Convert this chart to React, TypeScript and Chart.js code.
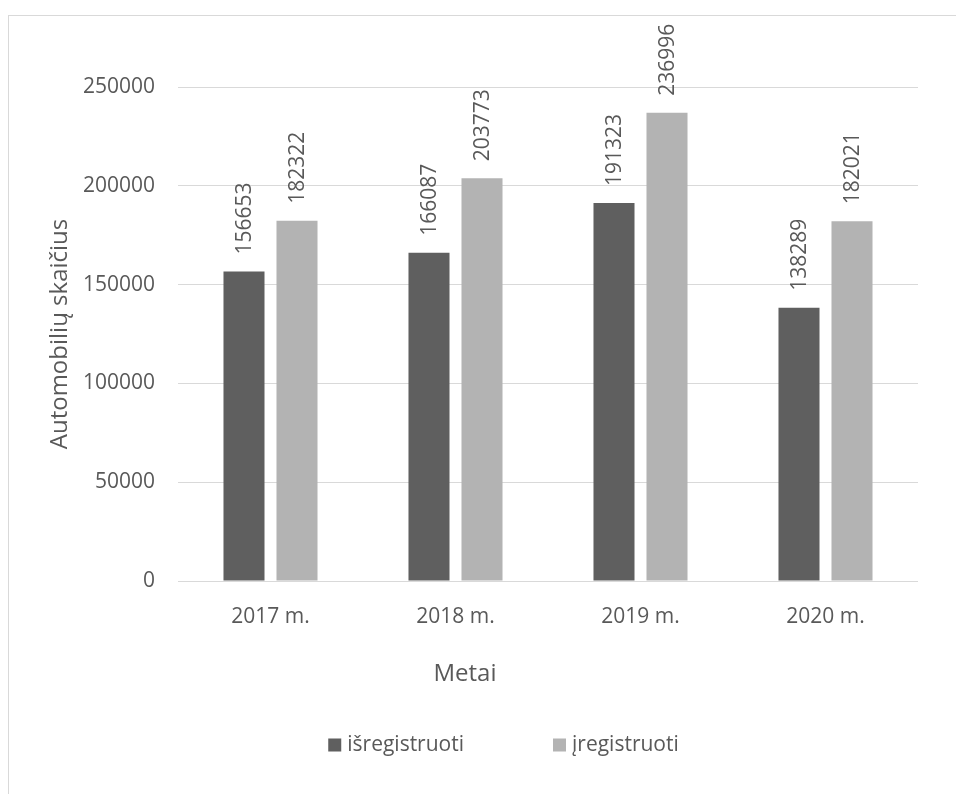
import React, { useEffect, useRef } from "react";
import { Chart, registerables } from "chart.js";

Chart.register(...registerables);

// Passenger cars deregistered / registered per year
const years = ["2017 m.", "2018 m.", "2019 m.", "2020 m."];
const deregistered = [156653, 166087, 191323, 138289];
const registered = [182322, 203773, 236996, 182021];
const seriesNames = ["išregistruoti", "įregistruoti"];
const yMin = 0;
const yMax = 250000;
const yStep = 50000;
const xTitle = "Metai";
const yTitle = "Automobilių skaičius";

const FONT = '"Open Sans", "Noto Sans", sans-serif';
const TEXT = "#595959";
const GRID = "#d9d9d9";
const DARK = "#5f5f5f";
const LIGHT = "#b3b3b3";

// Rotated value labels above each bar
const valueLabels = {
  id: "valueLabels",
  afterDatasetsDraw(chart: any) {
    const ctx = chart.ctx;
    ctx.save();
    ctx.font = `21px ${FONT}`;
    ctx.fillStyle = TEXT;
    ctx.textAlign = "left";
    ctx.textBaseline = "middle";
    chart.data.datasets.forEach((ds: any, i: number) => {
      const meta = chart.getDatasetMeta(i);
      meta.data.forEach((bar: any, j: number) => {
        ctx.save();
        ctx.translate(bar.x + 1, bar.y - 17);
        ctx.rotate(-Math.PI / 2);
        ctx.fillText(String(ds.data[j]), 0, 0);
        ctx.restore();
      });
    });
    ctx.restore();
  },
};

// Horizontal axis title and the legend row beneath it
const footer = {
  id: "footer",
  afterDraw(chart: any) {
    const ctx = chart.ctx;
    ctx.save();
    ctx.fillStyle = TEXT;
    ctx.textBaseline = "middle";

    ctx.font = `24px ${FONT}`;
    ctx.textAlign = "center";
    ctx.fillText(xTitle, 456, 658);

    ctx.font = `21px ${FONT}`;
    ctx.textAlign = "left";
    const box = 13;
    const gap = 6;
    const spacing = 89;
    const items = chart.data.datasets.map((ds: any) => ({
      text: ds.label,
      color: ds.backgroundColor,
      w: ctx.measureText(ds.label).width,
    }));
    const total =
      items.reduce((s: number, it: any) => s + box + gap + it.w, 0) +
      spacing * (items.length - 1);
    let x = chart.width / 2 + 21 - total / 2;
    const cy = 729;
    items.forEach((it: any) => {
      ctx.fillStyle = it.color;
      ctx.fillRect(x, cy - box / 2, box, box);
      ctx.fillStyle = TEXT;
      ctx.fillText(it.text, x + box + gap, cy);
      x += box + gap + it.w + spacing;
    });
    ctx.restore();
  },
};

export default function App() {
  const canvasRef = useRef<HTMLCanvasElement | null>(null);

  useEffect(() => {
    if (!canvasRef.current) return;
    const chart = new Chart(canvasRef.current, {
      type: "bar",
      data: {
        labels: years,
        datasets: [
          {
            label: seriesNames[0],
            data: deregistered,
            backgroundColor: DARK,
            borderWidth: 0,
          },
          {
            label: seriesNames[1],
            data: registered,
            backgroundColor: LIGHT,
            borderWidth: 0,
          },
        ],
      },
      options: {
        responsive: false,
        animation: false,
        events: [],
        datasets: {
          bar: {
            categoryPercentage: 0.573,
            barPercentage: 0.774,
          },
        },
        layout: {
          padding: { left: 0, right: 38, top: 71, bottom: 107 },
        },
        plugins: {
          legend: { display: false },
          tooltip: { enabled: false },
          title: { display: false },
        },
        scales: {
          x: {
            grid: { display: false },
            border: { display: false },
            ticks: {
              color: TEXT,
              font: { family: FONT, size: 21 },
              padding: 15,
            },
            afterFit(scale: any) {
              scale.height = 106;
            },
          },
          y: {
            min: yMin,
            max: yMax,
            grid: { color: GRID, lineWidth: 1, drawTicks: false },
            border: { display: false },
            ticks: {
              stepSize: yStep,
              color: TEXT,
              font: { family: FONT, size: 21 },
              padding: 23,
              callback: (value: any) => String(value),
            },
            title: {
              display: true,
              text: yTitle,
              color: TEXT,
              font: { family: FONT, size: 24 },
              padding: { top: 37, bottom: 0 },
            },
            afterFit(scale: any) {
              scale.width = 169;
            },
          },
        },
      },
      plugins: [valueLabels, footer],
    });
    return () => chart.destroy();
  }, []);

  return (
    <div
      style={{
        position: "fixed",
        left: 8,
        top: 15,
        right: 0,
        bottom: 0,
        borderTop: `1px solid ${GRID}`,
        borderLeft: `1px solid ${GRID}`,
        background: "#ffffff",
        overflow: "hidden",
      }}
    >
      <canvas
        ref={canvasRef}
        width={947}
        height={778}
        style={{ display: "block", width: 947, height: 778 }}
      />
    </div>
  );
}
